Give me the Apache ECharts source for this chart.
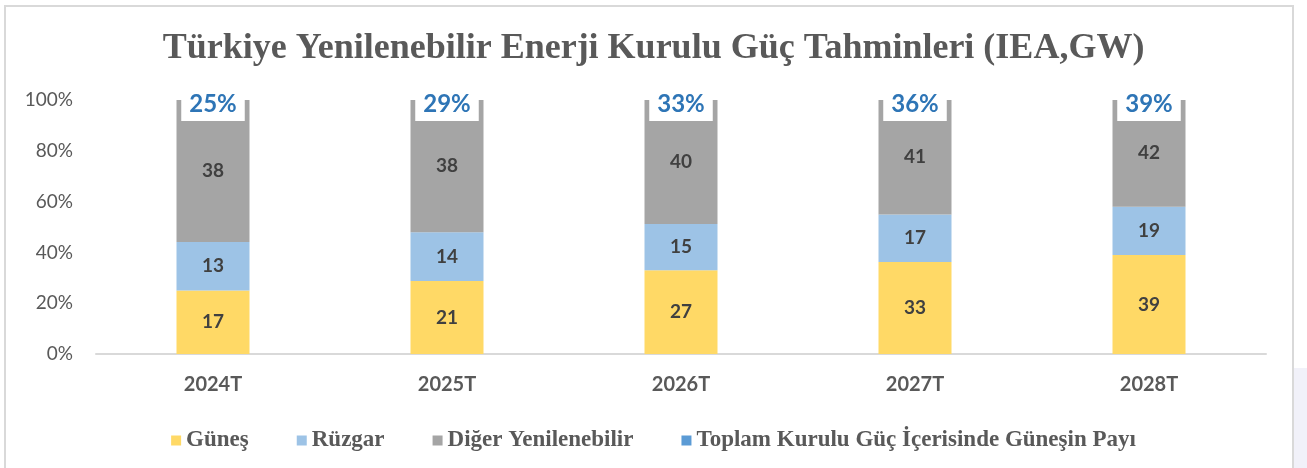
<!DOCTYPE html>
<html>
<head>
<meta charset="utf-8">
<script src="https://cdn.jsdelivr.net/npm/echarts@6/dist/echarts.min.js"></script>
<style>
  html, body { margin: 0; padding: 0; background: #fff; }
  #chart { width: 1307px; height: 468px; }
</style>
</head>
<body>
<div id="chart"></div>
<script>
// yillar ve kurulu guc (GW)
var years = ["2024T", "2025T", "2026T", "2027T", "2028T"];
var gunes = [17, 21, 27, 33, 39];
var ruzgar = [13, 14, 15, 17, 19];
var diger = [38, 38, 40, 41, 42];
var gunesPayi = [25, 29, 33, 36, 39];
var yTicks = ["0%", "20%", "40%", "60%", "80%", "100%"];

var chart = echarts.init(document.getElementById("chart"));

// %100 yigilmis cubuk icin paylar
var toplam = years.map(function (y, i) {
  return gunes[i] + ruzgar[i] + diger[i];
});
function pay(arr) {
  return arr.map(function (v, i) {
    return { value: (v / toplam[i]) * 100, raw: v };
  });
}

var labelStyle = {
  show: true,
  position: "inside",
  formatter: function (p) {
    return p.data.raw;
  },
  color: "#404040",
  fontFamily: "Lato",
  fontWeight: "bold",
  fontSize: 19,
};

var option = {
  animation: false,
  graphic: [
    {
      type: "rect",
      shape: { x: 1294, y: 368, width: 20, height: 110 },
      style: { fill: "#F1F1F9" },
      silent: true,
    },
    {
      type: "rect",
      shape: { x: 5, y: 6, width: 1288, height: 480 },
      style: { fill: "none", stroke: "#D9D9D9", lineWidth: 2 },
      silent: true,
    },
  ],
  title: {
    text: "Türkiye Yenilenebilir Enerji Kurulu Güç Tahminleri (IEA,GW)",
    left: "center",
    top: 26,
    textStyle: {
      fontFamily: "Liberation Serif",
      fontWeight: "bold",
      fontSize: 36,
      color: "#595959",
    },
  },
  legend: {
    left: "center",
    top: 424,
    icon: "rect",
    itemWidth: 10,
    itemHeight: 10,
    itemGap: 48,
    textStyle: {
      fontFamily: "Liberation Serif",
      fontWeight: "bold",
      fontSize: 23,
      color: "#595959",
    },
    data: [
      "Güneş",
      "Rüzgar",
      "Diğer Yenilenebilir",
      {
        name: "Toplam Kurulu Güç İçerisinde Güneşin Payı",
        itemStyle: { color: "#5B9BD5", opacity: 1 },
      },
    ],
  },
  grid: {
    left: 96,
    right: 41,
    top: 100,
    bottom: 114,
  },
  xAxis: {
    type: "category",
    data: years,
    axisTick: { show: false },
    axisLine: { lineStyle: { color: "#D9D9D9", width: 2 } },
    axisLabel: {
      color: "#595959",
      fontFamily: "Lato",
      fontWeight: "bold",
      fontSize: 20,
      margin: 21,
    },
  },
  yAxis: {
    type: "value",
    min: 0,
    max: 100,
    interval: 20,
    splitLine: { show: false },
    axisLine: { show: false },
    axisTick: { show: false },
    axisLabel: {
      color: "#595959",
      fontFamily: "Lato",
      fontSize: 19,
      margin: 23,
      formatter: function (v) {
        return yTicks[v / 20];
      },
    },
  },
  series: [
    {
      name: "Güneş",
      type: "bar",
      stack: "toplam",
      barWidth: 73,
      itemStyle: { color: "#FFD966" },
      label: labelStyle,
      data: pay(gunes),
    },
    {
      name: "Rüzgar",
      type: "bar",
      stack: "toplam",
      barWidth: 73,
      itemStyle: { color: "#9DC3E6" },
      label: labelStyle,
      data: pay(ruzgar),
    },
    {
      name: "Diğer Yenilenebilir",
      type: "bar",
      stack: "toplam",
      barWidth: 73,
      itemStyle: { color: "#A5A5A5" },
      label: labelStyle,
      data: pay(diger),
    },
    {
      name: "Toplam Kurulu Güç İçerisinde Güneşin Payı",
      type: "scatter",
      symbolSize: 1,
      itemStyle: { color: "#FFFFFF", opacity: 1 },
      label: {
        show: true,
        position: "inside",
        offset: [0, 4.5],
        formatter: function (p) {
          return p.data.raw + "%";
        },
        backgroundColor: "#FFFFFF",
        padding: [1, 8, 8, 8],
        lineHeight: 24,
        color: "#2E75B6",
        fontFamily: "Lato",
        fontWeight: "bold",
        fontSize: 24,
      },
      data: gunesPayi.map(function (v) {
        return { value: 100, raw: v };
      }),
    },
  ],
};

chart.setOption(option);
</script>
</body>
</html>
